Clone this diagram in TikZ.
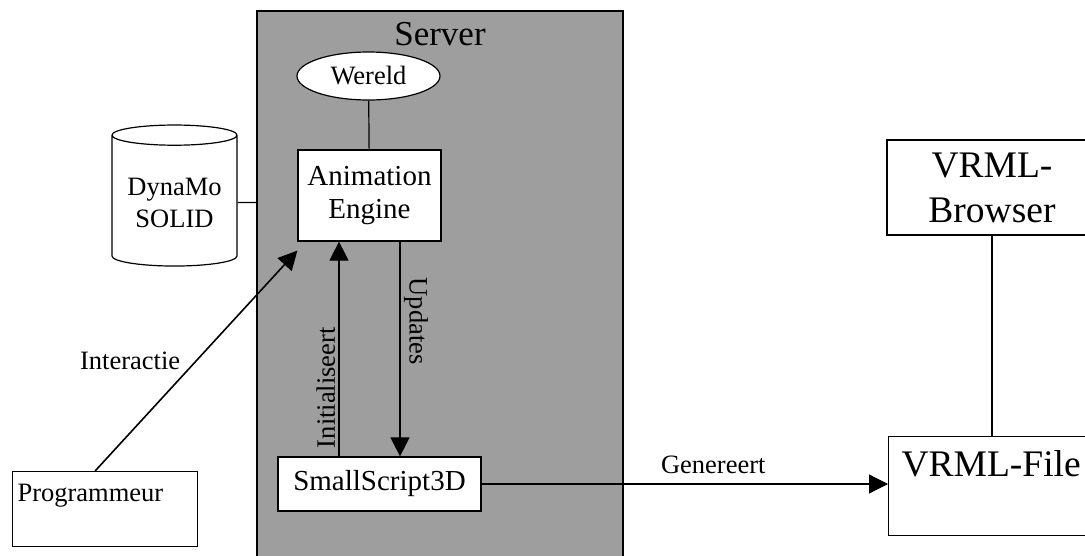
\documentclass[tikz,border=0pt]{standalone}
\usepackage{fontspec}
\setmainfont{Liberation Serif}
\usetikzlibrary{shapes.geometric,arrows.meta}

\tikzset{
  box/.style={draw, fill=white, line width=1.2pt, inner sep=0pt},
  arr/.style={-{Triangle[length=19pt,width=19pt]}, line width=1.2pt},
  lnk/.style={-, line width=1.2pt},
  small/.style={font=\fontsize{26.5}{32}\selectfont},
  medium/.style={font=\fontsize{29}{33}\selectfont},
  large/.style={font=\fontsize{37.5}{45}\selectfont},
}

\begin{document}
\begin{tikzpicture}[x=1pt, y=-1pt]
\useasboundingbox (0,0) rectangle (1085,555);
\clip (0,0) rectangle (1085,555);

\node[draw, line width=1.5pt, fill=black!38, minimum width=366pt, minimum height=570pt, inner sep=0pt, anchor=north west] (server) at (256,10) {};
\node[anchor=base, font=\fontsize{35}{40}\selectfont] (serverlabel) at (440,45) {Server};

\node[ellipse, box, minimum width=143pt, minimum height=48pt, small] (wereld) at (368.5,76) {Wereld};
\node[box, minimum width=143pt, minimum height=91pt, align=center, medium] (engine) at (369.5,195.5) {Animation\\Engine};
\node[cylinder, shape border rotate=90, draw, fill=white, line width=1.2pt, aspect=0.2, minimum width=125pt, minimum height=141pt, align=center, small] (db) at (174.5,202.5) {DynaMo\\SOLID};
\node[box, minimum width=203pt, minimum height=54pt, medium] (script) at (379.5,484) {SmallScript3D};
\node[box, anchor=north west, text width=175pt, inner xsep=5pt, minimum height=75pt, align=left, small] (prog) at (12,471) {Programmeur\\~};
\node[box, anchor=north west, text width=200pt, inner xsep=13pt, minimum height=99pt, align=left, large] (vrmlfile) at (888,436) {VRML-File\\~};
\node[box, minimum width=210pt, minimum height=95pt, align=center, large] (browser) at (992,187.5) {VRML-\\Browser};

\coordinate (initTop) at ([xshift=-30.5pt]engine.south);
\coordinate (updTop) at ([xshift=30.5pt]engine.south);

\draw[lnk] (wereld) -- (engine);
\draw[lnk] (db) -- (db -| server.west);
\draw[lnk] (browser.south) -- (browser.south |- vrmlfile.north);
\draw[arr, line width=1.6pt] ([xshift=-10pt]prog.north) -- node[pos=0.5, left=12pt, small] {Interactie} ([yshift=-9pt]engine.south west);
\draw[arr] (initTop |- script.north) -- node[pos=0.32, rotate=90, anchor=south, small] {Initialiseert} (initTop);
\draw[arr] (updTop) -- node[pos=0.37, rotate=-90, anchor=south, small] {Updates} (updTop |- script.north);
\draw[arr] (script.east) -- node[pos=0.57, above=6pt, small] {Genereert} (script.east -| vrmlfile.west);

\end{tikzpicture}
\end{document}
